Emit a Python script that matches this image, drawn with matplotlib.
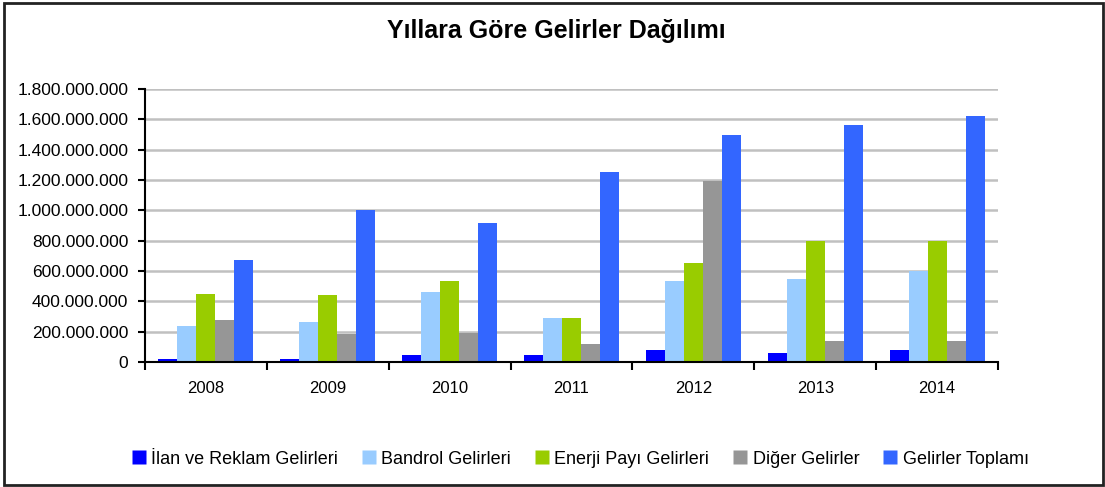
import matplotlib
matplotlib.use("Agg")
import matplotlib.pyplot as plt
from matplotlib.patches import Rectangle
from matplotlib.lines import Line2D
from matplotlib.ticker import FuncFormatter, MultipleLocator
import numpy as np

plt.rcParams['font.family'] = ['Liberation Sans', 'DejaVu Sans']

years = ["2008", "2009", "2010", "2011", "2012", "2013", "2014"]
series_names = ["İlan ve Reklam Gelirleri", "Bandrol Gelirleri",
                "Enerji Payı Gelirleri", "Diğer Gelirler", "Gelirler Toplamı"]
ilan = [18e6, 18e6, 44e6, 44e6, 79e6, 57e6, 79e6]
bandrol = [240e6, 264e6, 461e6, 290e6, 534e6, 549e6, 598e6]
enerji = [449e6, 440e6, 534e6, 290e6, 655e6, 800e6, 800e6]
diger = [275e6, 183e6, 193e6, 119e6, 1195e6, 138e6, 138e6]
toplam = [670e6, 1005e6, 914e6, 1254e6, 1494e6, 1562e6, 1624e6]
series = [ilan, bandrol, enerji, diger, toplam]
colors = ["#0000FF", "#99CCFF", "#99CC00", "#969696", "#3366FF"]

W, H = 1105, 487
fig = plt.figure(figsize=(W / 100, H / 100), dpi=100)
ax = fig.add_axes([145 / W, 1 - 362 / H, (998 - 145) / W, (362 - 89) / H])

x = np.arange(len(years))
bw = 0.156
for i, (vals, c) in enumerate(zip(series, colors)):
    ax.bar(x + (i - 2) * bw, vals, width=bw, color=c, edgecolor="none",
           zorder=3)

ax.set_xlim(-0.5, len(years) - 0.5)
ax.set_ylim(0, 1.8e9)
ax.yaxis.set_major_locator(MultipleLocator(2e8))
ax.yaxis.set_major_formatter(
    FuncFormatter(lambda v, p: f"{int(round(v)):,}".replace(",", ".")))
ax.grid(axis="y", color="#C0C0C0", linewidth=1.8, zorder=0)
ax.set_axisbelow(True)

# category labels centred, ticks at the category boundaries
ax.set_xticks(np.arange(-0.5, len(years), 1.0))
ax.set_xticklabels([])
ax.set_xticks(x, minor=True)
ax.set_xticklabels(years, minor=True, fontsize=12)
ax.tick_params(axis="x", which="minor", length=0, pad=14)
ax.tick_params(axis="x", which="major", length=6, width=1.5, direction="out")
ax.tick_params(axis="y", length=5, width=1.5, labelsize=12.5, pad=7)

for s in ["top", "right"]:
    ax.spines[s].set_visible(False)
for s in ["left", "bottom"]:
    ax.spines[s].set_linewidth(1.5)
    ax.spines[s].set_zorder(4)

fig.text(556 / W, 1 - 31 / H, "Yıllara Göre Gelirler Dağılımı",
         ha="center", va="center", fontsize=18, fontweight="bold")

handles = [Line2D([], [], marker="s", linestyle="none", markersize=10,
                  markerfacecolor=c, markeredgecolor="none") for c in colors]
fig.legend(handles, series_names, loc="center", ncol=5,
           bbox_to_anchor=(580 / W, 1 - 459 / H), frameon=False,
           fontsize=13, handlelength=0.8, handletextpad=0.3,
           columnspacing=1.3, borderaxespad=0)

fig.patches.append(Rectangle((4 / W, 2 / H), 1099 / W, 482 / H,
                             transform=fig.transFigure, fill=False,
                             edgecolor="#222222", linewidth=2))

fig.savefig("out.png", dpi=100)
